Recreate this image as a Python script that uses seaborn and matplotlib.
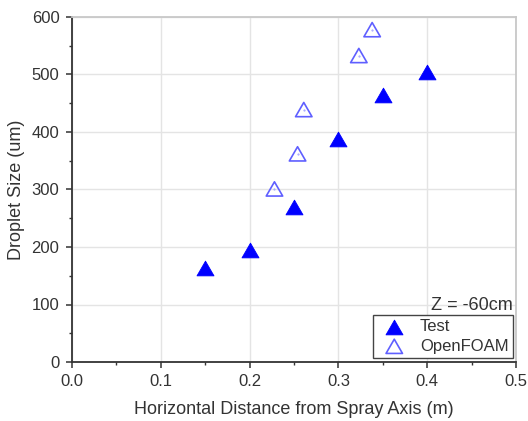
import matplotlib
matplotlib.use("Agg")
import matplotlib.pyplot as plt
import seaborn as sns
import pandas as pd
from matplotlib.ticker import MultipleLocator
from matplotlib.path import Path

test_x = [0.15, 0.20, 0.25, 0.30, 0.35, 0.40]
test_y = [163, 194, 270, 387, 465, 505]
foam_x = [0.228, 0.254, 0.261, 0.323, 0.338]
foam_y = [301, 362, 439, 533, 578]

sns.set_style("white")
plt.rcParams['font.family'] = ['Liberation Sans', 'DejaVu Sans']

tri = Path([(0, 0.866), (-1, -0.866), (1, -0.866), (0, 0.866)],
           [Path.MOVETO, Path.LINETO, Path.LINETO, Path.CLOSEPOLY])

fig = plt.figure(figsize=(5.28, 4.21), dpi=100)
ax = fig.add_axes([72 / 528, 1 - 362 / 421, (516 - 72) / 528, (362 - 17) / 421])

df_test = pd.DataFrame({"x": test_x, "y": test_y})
df_foam = pd.DataFrame({"x": foam_x, "y": foam_y})

sns.scatterplot(data=df_test, x="x", y="y", ax=ax, marker=tri, s=150,
                color="#0000ff", edgecolor="#0000ff", linewidth=0.6, label="Test", zorder=3)
sns.scatterplot(data=df_foam, x="x", y="y", ax=ax, marker=tri, s=140,
                facecolor="none", edgecolor="#5f5fff", linewidth=1.2, label="OpenFOAM", zorder=3)
ax.scatter(foam_x, foam_y, marker=".", s=1, color="#9a9aff", zorder=4)

ax.set_xlim(0, 0.5)
ax.set_ylim(0, 600)
ax.xaxis.set_major_locator(MultipleLocator(0.1))
ax.xaxis.set_minor_locator(MultipleLocator(0.05))
ax.yaxis.set_major_locator(MultipleLocator(100))
ax.yaxis.set_minor_locator(MultipleLocator(50))
ax.set_xticks([0.0, 0.1, 0.2, 0.3, 0.4, 0.5])
ax.set_xticklabels(["0.0", "0.1", "0.2", "0.3", "0.4", "0.5"])

ax.grid(True, which="major", color="#e4e4e4", linewidth=1)
ax.set_axisbelow(True)
for s in ["left", "bottom"]:
    ax.spines[s].set_color("#333333")
    ax.spines[s].set_linewidth(1.3)
for s in ["top", "right"]:
    ax.spines[s].set_color("#c8c8c8")
    ax.spines[s].set_linewidth(1.3)

ax.tick_params(axis="both", which="major", direction="out", length=4.5, width=1.1, pad=4.5,
               color="#333333", labelsize=12, labelcolor="#333333", bottom=True, left=True)
ax.tick_params(axis="both", which="minor", direction="out", length=2.5, width=1.0,
               color="#333333", bottom=True, left=True)

ax.set_xlabel("Horizontal Distance from Spray Axis (m)", fontsize=13, color="#333333", labelpad=8)
ax.set_ylabel("Droplet Size (um)", fontsize=13, color="#333333", labelpad=5)

leg = ax.legend(loc="lower right", bbox_to_anchor=(0.993, 0.012), frameon=True, fancybox=False,
                fontsize=12, borderaxespad=0, handletextpad=0.55, borderpad=0.25,
                labelspacing=0.28, handlelength=2.0, markerscale=1.0)
leg.get_frame().set_edgecolor("#444444")
leg.get_frame().set_linewidth(1.0)
leg.get_frame().set_alpha(1)
for t in leg.get_texts():
    t.set_color("#333333")

ax.text(0.992, 90.5, "Z = -60cm", ha="right", va="baseline", fontsize=13, color="#333333",
        transform=ax.get_yaxis_transform())

fig.savefig("out.png", dpi=100)
